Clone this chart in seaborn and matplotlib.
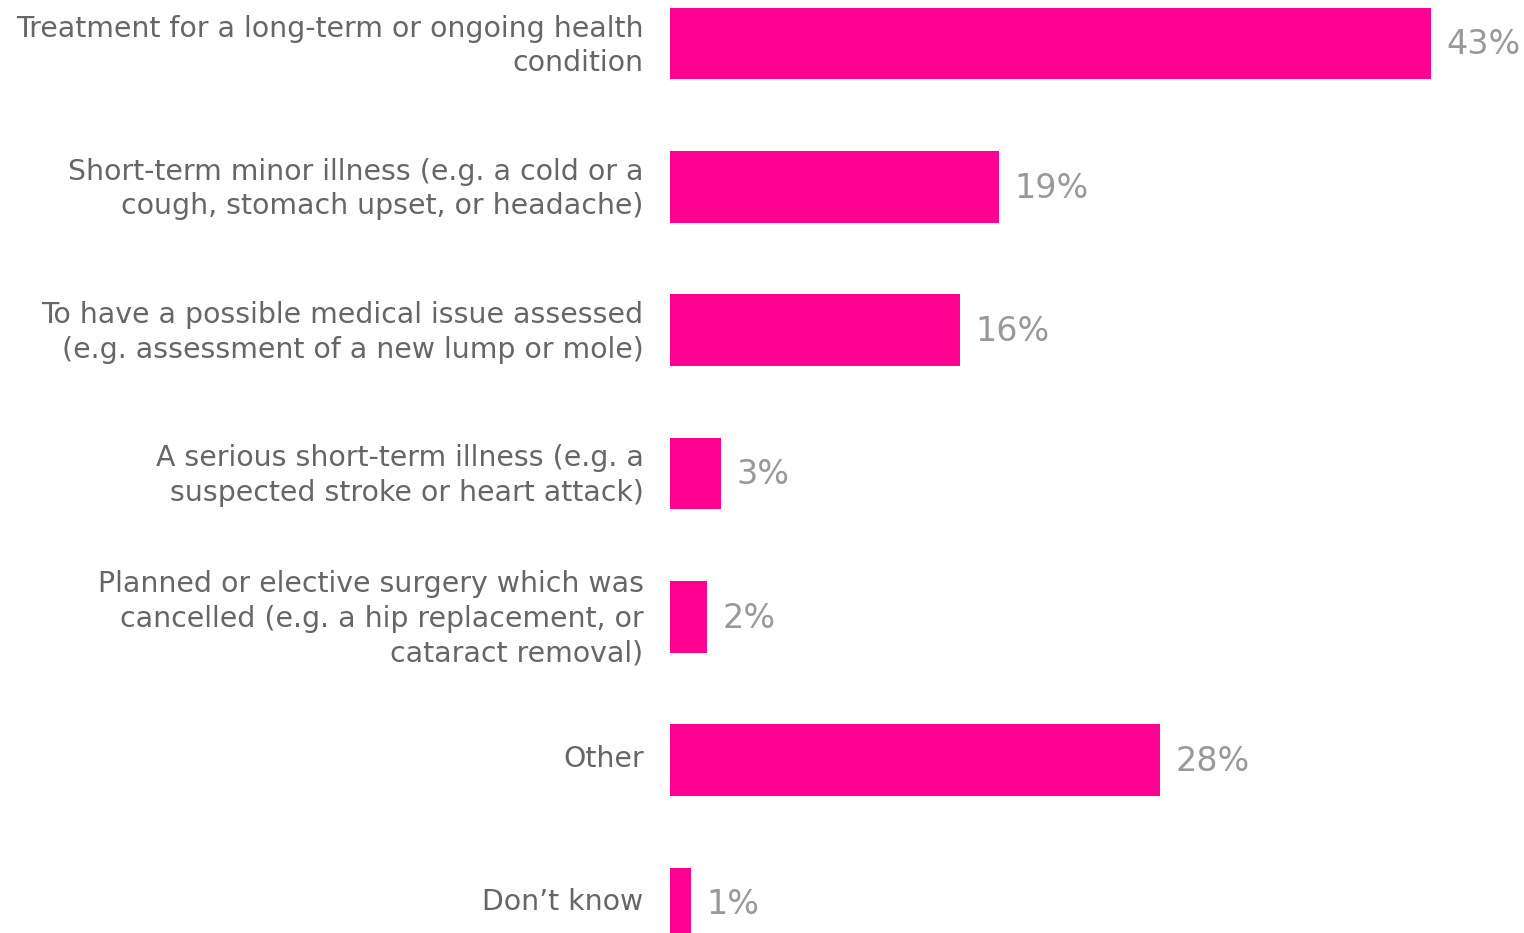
import matplotlib
matplotlib.use("Agg")
import matplotlib.pyplot as plt
import matplotlib.transforms as mtransforms
import seaborn as sns
import pandas as pd

categories = [
    "Treatment for a long-term or ongoing health\ncondition",
    "Short-term minor illness (e.g. a cold or a\ncough, stomach upset, or headache)",
    "To have a possible medical issue assessed\n(e.g. assessment of a new lump or mole)",
    "A serious short-term illness (e.g. a\nsuspected stroke or heart attack)",
    "Planned or elective surgery which was\ncancelled (e.g. a hip replacement, or\ncataract removal)",
    "Other",
    "Don\u2019t know",
]
values = [43.0, 18.6, 16.4, 2.9, 2.1, 27.7, 1.2]
value_labels = ["43%", "19%", "16%", "3%", "2%", "28%", "1%"]

df = pd.DataFrame({"category": categories, "value": values})

sns.set_theme(style="white")
plt.rcParams["font.family"] = ["DejaVu Sans"]

fig = plt.figure(figsize=(15.24, 9.33), dpi=100)
ax = fig.add_axes([670 / 1524, 0.0, 854 / 1524, 1.0])

sns.barplot(data=df, x="value", y="category", color="#FF0090", saturation=1,
            width=0.5, ax=ax, order=categories, linewidth=0)

ax.set_xlim(0, 48.25)
ax.set_ylim(6.207, -0.304)
for s in ax.spines.values():
    s.set_visible(False)
ax.set_xticks([])
ax.set_xlabel("")
ax.set_ylabel("")
ax.tick_params(axis="y", length=0, pad=19, labelsize=20.4, labelcolor="#666666")
shift = mtransforms.ScaledTranslation(0, 4 / 100, fig.dpi_scale_trans)
for t in ax.get_yticklabels():
    t.set_horizontalalignment("right")
    t.set_multialignment("right")
    t.set_linespacing(1.3)
    t.set_transform(t.get_transform() + shift)

for i, (v, lab) in enumerate(zip(values, value_labels)):
    ax.annotate(lab, xy=(v, i), xytext=(11, -1), textcoords="offset points",
                va="center", ha="left", fontsize=24, color="#999999")

fig.savefig("out.png", dpi=100)
